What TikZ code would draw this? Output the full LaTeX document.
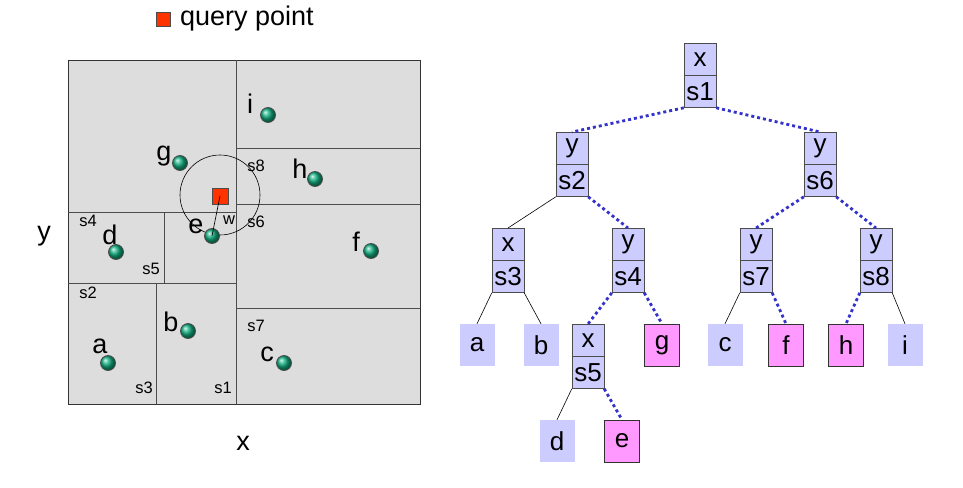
\documentclass[tikz,border=0pt]{standalone}
\usepackage{fontspec}
\setmainfont{Liberation Sans}
\begin{document}
\definecolor{lav}{HTML}{CCCCFF}
\definecolor{pnk}{HTML}{FF99FF}
\definecolor{cellg}{HTML}{DDDDDD}
\definecolor{dotb}{HTML}{3333CC}
\definecolor{pt}{HTML}{10B080}
\definecolor{qr}{HTML}{FF3300}
\begin{tikzpicture}[x=1pt,y=-1pt,
  big/.style={font=\fontsize{27}{27}\selectfont,inner sep=0pt},
  sm/.style={font=\fontsize{16.5}{16.5}\selectfont,inner sep=0pt},
  pnt/.style={circle,draw=black!70,line width=0.8pt,ball color=pt,minimum size=15pt,inner sep=0pt},
  half/.style={draw=black!70,fill=lav,minimum width=32pt,minimum height=32pt,inner sep=0pt,font=\fontsize{26}{26}\selectfont},
  leaf/.style={fill=lav,minimum width=35pt,minimum height=42pt,inner sep=0pt,font=\fontsize{26}{26}\selectfont},
  hit/.style={leaf,fill=pnk,draw=black!80},
  sol/.style={draw=black,line width=0.6pt},
  dot/.style={draw=dotb,line width=2.8pt,dash pattern=on 3pt off 3pt}]
\useasboundingbox (0,0) rectangle (963,487);
% legend
\node[draw=black!70,fill=qr,minimum size=14pt,inner sep=0pt] (lq) at (163,19) {};
\node[big,anchor=west] (lt) at (180,19) {query point};
% panel
\draw[fill=cellg,draw=black!80,line width=0.9pt] (68,60) rectangle (420,404);
\begin{scope}[draw=black!70,line width=0.8pt]
\draw (236,60) -- (236,404);
\draw (68,283) -- (236,283);
\draw (156,283) -- (156,404);
\draw (68,212) -- (236,212);
\draw (164,212) -- (164,283);
\draw (236,148) -- (420,148);
\draw (236,204) -- (420,204);
\draw (236,308) -- (420,308);
\end{scope}
\draw[line width=0.6pt] (220,195) circle (40);
\node[pnt] (pi) at (268,115) {};
\node[pnt] (pg) at (180,163) {};
\node[pnt] (ph) at (315,179) {};
\node[pnt] (pe) at (212,236) {};
\node[pnt] (pd) at (116,252) {};
\node[pnt] (pf) at (371,251) {};
\node[pnt] (pb) at (188,331) {};
\node[pnt] (pa) at (108,363) {};
\node[pnt] (pc) at (284,363) {};
\node[draw=black!70,fill=qr,minimum size=16pt,inner sep=0pt] (q) at (220,196) {};
\draw[line width=0.6pt] (q.center) -- (pe.center);
\node[big] at (250,104) {i};
\node[big] at (164,156) {g};
\node[big] at (300,169) {h};
\node[big] at (196,226) {e};
\node[big] at (110,235) {d};
\node[big] at (356,242) {f};
\node[big] at (171,322) {b};
\node[big] at (100,346) {a};
\node[big] at (267,354) {c};
\node[sm] at (256,166) {s8};
\node[sm] at (256,222) {s6};
\node[sm] at (229,220) {w};
\node[sm] at (88,221) {s4};
\node[sm] at (151,269) {s5};
\node[sm] at (88,293) {s2};
\node[sm] at (256,326) {s7};
\node[sm] at (144,388) {s3};
\node[sm] at (223,388) {s1};
\node[big] at (44,236) {y};
\node[big] at (243,443) {x};
% tree
\foreach \n/\cx/\ty/\a/\b in {r/700/43/x/s1, n2/572/132/y/s2, n6/820/132/y/s6, n3/508/228/x/s3, n4/628/228/y/s4, n7/756/228/y/s7, n8/876/228/y/s8, n5/588/324/x/s5}{
  \node[half,anchor=north] (\n t) at (\cx,\ty) {\a};
  \node[half,anchor=north] (\n) at (\n t.south) {\b};
}
\node[leaf] (la) at (477,345) {a};
\node[leaf] (lb) at (541,345) {b};
\node[hit] (lg) at (662,345) {g};
\node[leaf] (lc) at (725,345) {c};
\node[hit] (lf) at (786,345) {f};
\node[hit] (lh) at (846,345) {h};
\node[leaf] (li) at (905,345) {i};
\node[leaf] (ld) at (557,441) {d};
\node[hit] (le) at (622,441) {e};
\path[dot] (r.south west) -- (n2t.north);
\path[dot] (r.south east) -- (n6t.north);
\path[sol] (n2.south west) -- (n3t.north);
\path[dot] (n2.south east) -- (n4t.north);
\path[dot] (n6.south west) -- (n7t.north);
\path[dot] (n6.south east) -- (n8t.north);
\path[sol] (n3.south west) -- (la.north);
\path[sol] (n3.south east) -- (lb.north);
\path[dot] (n4.south west) -- (n5t.north);
\path[dot] (n4.south east) -- (lg.north);
\path[sol] (n7.south west) -- (lc.north);
\path[dot] (n7.south east) -- (lf.north);
\path[dot] (n8.south west) -- (lh.north);
\path[sol] (n8.south east) -- (li.north);
\path[sol] (n5.south west) -- (ld.north);
\path[dot] (n5.south east) -- (le.north);
\end{tikzpicture}
\end{document}
